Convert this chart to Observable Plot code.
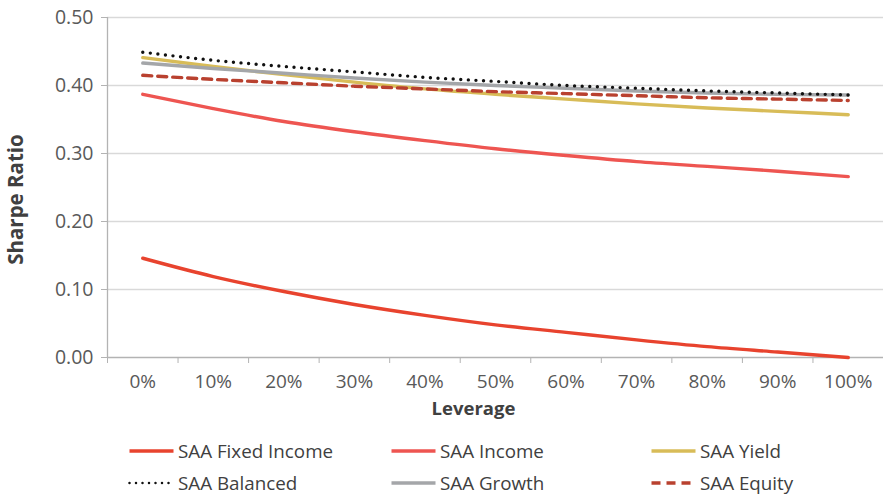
<!DOCTYPE html>
<html>
<head>
<meta charset="utf-8">
<script src="https://cdn.jsdelivr.net/npm/d3@7"></script>
<script src="https://cdn.jsdelivr.net/npm/@observablehq/plot@0.6"></script>
<style>
  html, body { margin: 0; padding: 0; background: #fff; }
  body { width: 883px; height: 497px; overflow: hidden; font-family: "Open Sans", sans-serif; }
  #chart { position: relative; width: 883px; height: 420px; }
  #legend { position: relative; width: 883px; height: 77px; }
  .li { position: absolute; display: flex; align-items: center; font-size: 18.8px; color: #404040; white-space: nowrap; height: 24px; }
  .li svg { margin-right: 3px; }
</style>
</head>
<body>
<div id="chart"></div>
<div id="legend"></div>
<script>
const leverage = [0, 10, 20, 30, 40, 50, 60, 70, 80, 90, 100];
const tickBoundaries = [-5, 5, 15, 25, 35, 45, 55, 65, 75, 85, 95, 105];
const yTicks = [0, 0.1, 0.2, 0.3, 0.4, 0.5];

const seriesNames = ["SAA Fixed Income", "SAA Income", "SAA Yield", "SAA Balanced", "SAA Growth", "SAA Equity"];
const fixedIncome = [0.146, 0.119, 0.097, 0.078, 0.062, 0.048, 0.037, 0.026, 0.016, 0.008, 0.000];
const income      = [0.387, 0.366, 0.347, 0.332, 0.319, 0.307, 0.297, 0.288, 0.281, 0.274, 0.266];
const yieldS      = [0.441, 0.428, 0.416, 0.405, 0.395, 0.387, 0.380, 0.373, 0.367, 0.362, 0.357];
const balanced    = [0.449, 0.437, 0.428, 0.420, 0.412, 0.406, 0.400, 0.396, 0.392, 0.389, 0.386];
const growth      = [0.433, 0.425, 0.418, 0.411, 0.405, 0.400, 0.396, 0.392, 0.389, 0.387, 0.386];
const equity      = [0.415, 0.409, 0.404, 0.399, 0.395, 0.391, 0.388, 0.385, 0.382, 0.380, 0.378];

const seriesValues = [fixedIncome, income, yieldS, balanced, growth, equity];
const styles = [
  {stroke: "#e8432e", strokeWidth: 3.4},
  {stroke: "#ee5551", strokeWidth: 3.4},
  {stroke: "#d8bc58", strokeWidth: 3.4},
  {stroke: "#111111", strokeWidth: 3.4, strokeDasharray: "0 7.6", strokeLinecap: "round"},
  {stroke: "#a4a6a9", strokeWidth: 3.4},
  {stroke: "#b9412f", strokeWidth: 3.4, strokeDasharray: "9 6"}
];

const tickColor = "#595959";
const axisColor = "#b3b3b3";
const gridColor = "#d9d9d9";

const lineMarks = seriesNames.map((name, i) => {
  const data = leverage.map((x, j) => ({x, y: seriesValues[i][j], name}));
  return Plot.line(data, {x: "x", y: "y", curve: "monotone-x", ...styles[i]});
});

const order = [0, 1, 2, 4, 5, 3];

const chart = Plot.plot({
  width: 883,
  height: 420,
  marginTop: 17,
  marginBottom: 63,
  marginLeft: 107,
  marginRight: 0,
  style: {fontFamily: "Open Sans, sans-serif", background: "#fff", overflow: "visible"},
  x: {type: "linear", domain: [-5, 105], axis: null},
  y: {domain: [0, 0.5], axis: null},
  marks: [
    Plot.gridY(yTicks.filter(d => d > 0), {stroke: gridColor, strokeOpacity: 1, strokeWidth: 1.3}),
    Plot.ruleY([0], {stroke: axisColor, strokeWidth: 1.3}),
    Plot.ruleX([-5], {stroke: axisColor, strokeWidth: 1.3}),
    Plot.axisY({ticks: yTicks, tickFormat: d3.format(".2f"), tickSize: 6, tickPadding: 8, stroke: axisColor,
      fontSize: 19.5, color: tickColor, label: null}),
    Plot.axisX({ticks: tickBoundaries, tickSize: 6, tickFormat: () => "", stroke: axisColor, label: null}),
    Plot.axisX({ticks: leverage, tickSize: 0, tickPadding: 17, tickFormat: d => d + "%", fontSize: 19, color: tickColor, label: null}),
    Plot.text(["Leverage"], {frameAnchor: "bottom", dx: -22, dy: 57, fontSize: 18.5, fontWeight: "bold", fill: "#404040"}),
    Plot.text(["Sharpe Ratio"], {frameAnchor: "left", dx: -91, dy: 12, rotate: -90, textAnchor: "middle", fontSize: 20.5, fontWeight: "bold", fill: "#404040"}),
    ...order.map(i => lineMarks[i])
  ]
});
document.getElementById("chart").appendChild(chart);

// legend
const legendPos = [
  {left: 128, top: 31}, {left: 390, top: 31}, {left: 650, top: 31},
  {left: 128, top: 63}, {left: 390, top: 63}, {left: 650, top: 63}
];
const legend = document.getElementById("legend");
seriesNames.forEach((name, i) => {
  const div = document.createElement("div");
  div.className = "li";
  div.style.left = legendPos[i].left + "px";
  div.style.top = (legendPos[i].top - 12) + "px";
  const s = styles[i];
  const svg = d3.create("svg").attr("width", 47).attr("height", 10);
  svg.append("line").attr("x1", 1.5).attr("x2", 45.5).attr("y1", 5).attr("y2", 5)
    .attr("stroke", s.stroke).attr("stroke-width", i === 3 ? 2.5 : s.strokeWidth)
    .attr("stroke-dasharray", i === 3 ? "0 6.5" : (s.strokeDasharray || null))
    .attr("stroke-linecap", s.strokeLinecap || "butt");
  div.appendChild(svg.node());
  const span = document.createElement("span");
  span.textContent = name;
  div.appendChild(span);
  legend.appendChild(div);
});
</script>
</body>
</html>
